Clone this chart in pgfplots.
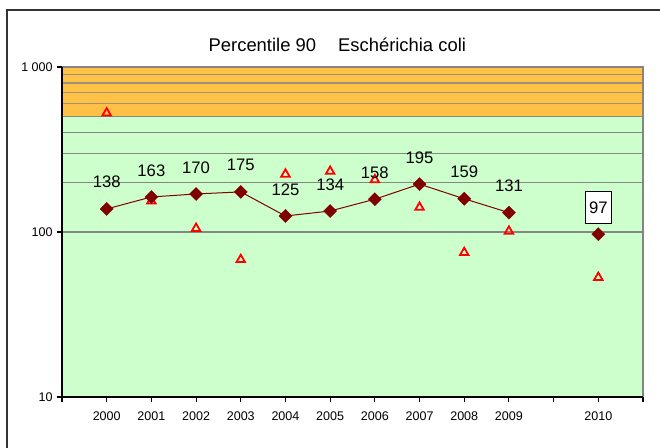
\documentclass[border=0pt]{standalone}
\usepackage{fontspec}
\setmainfont{Liberation Sans}
\usepackage{pgfplots}
\pgfplotsset{compat=1.18}

\definecolor{bggreen}{HTML}{CCFFCC}
\definecolor{bgorange}{HTML}{FFC246}
\definecolor{gridgray}{HTML}{868686}
\definecolor{darkred}{HTML}{800000}

\begin{document}
\begin{tikzpicture}
\useasboundingbox (-46.5pt,-38.25pt) rectangle (448.5pt,297.75pt);
% chart border (cut off at right and bottom)
\draw[line width=1.3pt, black!80] (-41.5pt,-60pt) -- (-41.5pt,290.25pt) -- (470pt,290.25pt);
% years are placed at 1..10 (2000-2009) and 12 (2010); 11 is an empty slot
\begin{axis}[
    scale only axis,
    width=435.75pt, height=247.5pt,
    xmin=0, xmax=13,
    ymode=log, ymin=10, ymax=1000,
    axis line style={draw=none},
    xtick={0,1,2,3,4,5,6,7,8,9,10,11,12,13},
    xticklabels={{},2000,2001,2002,2003,2004,2005,2006,2007,2008,2009,{},2010,{}},
    ytick={10,100,1000},
    yticklabels={10,100,1 000},
    yminorticks=false,
    xtick pos=bottom, ytick pos=left,
    tick align=outside,
    major tick length=3.5pt,
    tick style={black, line width=0.8pt},
    /pgf/number format/assume math mode=true,
    xticklabel style={font=\fontsize{9.4}{11}\selectfont, yshift=-4pt},
    yticklabel style={font=\fontsize{9.4}{11}\selectfont},
    clip=false,
]
% background bands
\fill[bggreen] (axis cs:0,10) rectangle (axis cs:13,500);
\fill[bgorange] (axis cs:0,500) rectangle (axis cs:13,1000);
% horizontal grid lines
\draw[gridgray, line width=1.1pt] (axis cs:0,100) -- (axis cs:13,100);
\draw[gridgray, line width=1.1pt] (axis cs:0,200) -- (axis cs:13,200);
\draw[gridgray, line width=1.1pt] (axis cs:0,300) -- (axis cs:13,300);
\draw[gridgray, line width=1.1pt] (axis cs:0,400) -- (axis cs:13,400);
\draw[gridgray, line width=1.1pt] (axis cs:0,500) -- (axis cs:13,500);
\draw[gridgray!80!bgorange, line width=1pt] (axis cs:0,600) -- (axis cs:13,600);
\draw[gridgray!80!bgorange, line width=1pt] (axis cs:0,700) -- (axis cs:13,700);
\draw[gridgray!80!bgorange, line width=1pt] (axis cs:0,800) -- (axis cs:13,800);
\draw[gridgray!80!bgorange, line width=1pt] (axis cs:0,900) -- (axis cs:13,900);
% plot frame
\draw[gridgray, line width=1.1pt] (axis cs:0,1000) -- (axis cs:13,1000) -- (axis cs:13,10);
\draw[black, line width=1pt] (axis cs:0,1000) -- (axis cs:0,10) -- (axis cs:13,10);

% open red triangles
\addplot[only marks, mark=triangle, mark size=3.7pt, red, mark options={line width=1.35pt}]
coordinates {
(1,526) (2,154) (3,105) (4,68) (5,224) (6,233)
(7,207) (8,141) (9,75) (10,101) (12,53)
};

% percentile 90
\addplot[darkred, line width=0.75pt, mark=square*, mark size=3.5pt,
    mark options={rotate=45, fill=darkred, draw=darkred, line width=0.2pt},
    nodes near coords, point meta=rawy,
    nodes near coords style={black, anchor=center, yshift=20pt,
        font=\fontsize{12.5}{14}\selectfont,
        /pgf/number format/fixed, /pgf/number format/precision=0}]
coordinates {
(1,138) (2,163) (3,170) (4,175) (5,125)
(6,134) (7,158) (8,195) (9,159) (10,131)
};
\addplot[darkred, only marks, mark=square*, mark size=3.5pt,
    mark options={rotate=45, fill=darkred, draw=darkred, line width=0.2pt},
    nodes near coords, point meta=rawy,
    nodes near coords style={black, anchor=center, yshift=20pt, draw=black,
        fill=white, line width=0.8pt, inner sep=2pt,
        minimum width=19.5pt, minimum height=24.5pt,
        font=\fontsize{12.5}{14}\selectfont,
        /pgf/number format/fixed, /pgf/number format/precision=0}]
coordinates {(12,97)};
\end{axis}
\node[font=\fontsize{13.8}{16}\selectfont] at (206.5pt,264pt)
    {Percentile 90\hspace{1.2em}Eschérichia coli};
\end{tikzpicture}
\end{document}
